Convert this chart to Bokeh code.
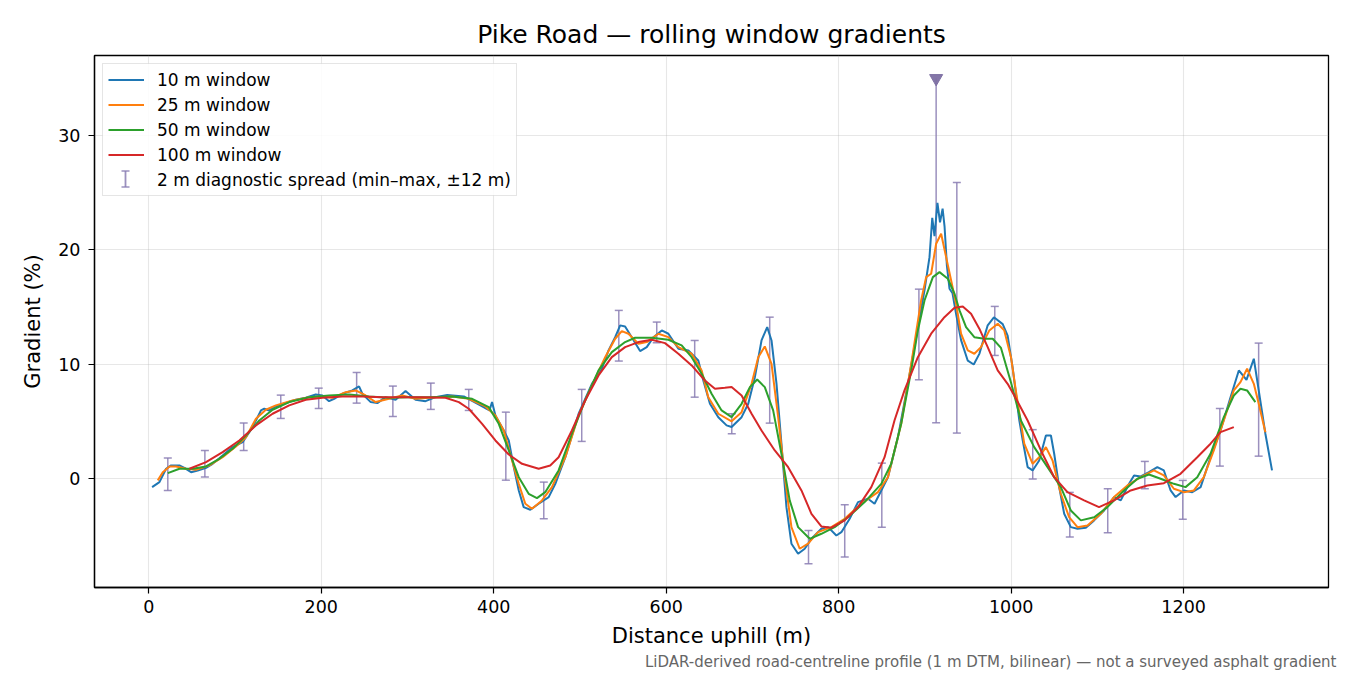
import numpy as np
from bokeh.plotting import figure
from bokeh.models import Range1d, FixedTicker, Legend, LegendItem, Title, BoxAnnotation
from bokeh.embed import file_html
from bokeh.resources import INLINE

# rolling-window gradients (%)
dist_10 = [3.8, 12.3, 20, 25.8, 35.5, 41.3, 49, 56.7, 66.3, 74, 85.6, 97.2, 108.8, 116.5, 124.2, 130, 133.9,
           139.6, 147.3, 158.9, 170.5, 182, 193.6, 201.3, 209, 214.9, 224.5, 236, 243.8, 247.6, 257.3, 265,
           274.6, 286.2, 297.7, 309.3, 320.9, 332.5, 346, 365.3, 384.5, 395, 398, 401.9, 411.6, 417.4, 423.2,
           429, 434.7, 442.4, 452.1, 463.7, 471.4, 483, 498.4, 513.8, 525.4, 533.1, 540.8, 546.6, 552.3, 560,
           569.7, 577.4, 585.2, 594.8, 602.5, 614.1, 625.7, 637.2, 643, 650.7, 660.4, 670, 675.8, 687.4, 695.1,
           702.8, 710.5, 717.1, 722.1, 727.9, 733.6, 739.4, 745.2, 752.9, 760.6, 768.4, 779.9, 787.7, 797.3,
           803.1, 812.7, 822.4, 834, 841.6, 849.4, 857.1, 868.7, 880.3, 889.9, 899.5, 905.3, 908.5, 911.1,
           914.5, 917.5, 920.5, 922.8, 925.5, 928.5, 932, 936.1, 941.9, 949.7, 956.6, 963.1, 972.8, 980, 990.2,
           995.9, 1001.7, 1009.4, 1013.5, 1019.1, 1024.9, 1032.5, 1040.3, 1046.1, 1049.9, 1055.7, 1061.5,
           1069.2, 1076.9, 1086.6, 1096.2, 1107.8, 1119.3, 1127.1, 1136.7, 1142.5, 1150.2, 1159.8, 1169.5,
           1177.1, 1184.9, 1190.7, 1200.3, 1210, 1219.7, 1231.2, 1242.8, 1254.4, 1264, 1272.9, 1281.4, 1287.1,
           1294.8, 1302.5]
grad_10 = [-0.76, -0.32, 0.85, 1.14, 1.14, 0.93, 0.55, 0.7, 0.93, 1.28, 2.0, 2.74, 3.18, 4.05, 5.07, 5.95, 6.1,
           5.95, 6.3, 6.6, 6.88, 7.06, 7.35, 7.26, 6.76, 6.97, 7.41, 7.7, 8.05, 7.41, 6.68, 6.59,
           7.11, 6.88, 7.64, 6.88, 6.76, 7.11, 7.3, 7.17, 6.4, 5.95, 6.68, 5.51, 4.2, 3.32, 0.99,
           -1.05, -2.51, -2.74, -2.21, -1.63, -0.47, 1.86, 5.66, 8.28, 9.6, 11.2, 12.36, 13.39, 13.3, 12.36,
           11.14, 11.49, 12.36, 12.95, 12.66, 11.35, 11.2, 10.32, 8.57, 6.53, 5.36, 4.64, 4.5, 5.36, 6.53,
           8.86, 12.07, 13.24, 12.07, 8.28, 3.04, -2.51, -5.71, -6.59, -6.15, -5.28, -4.4, -4.26, -4.99,
           -4.7, -3.53, -2.07, -1.78, -2.21, -1.05, 0.11, 3.61, 8.28, 12.36, 16.45, 19.36, 22.8, 21.2,
           24.1, 22.4, 23.6, 22.0, 18.6, 16.6, 16.2, 14.4, 12.1, 10.3, 9.97, 10.9, 13.4, 14.1, 13.5,
           12.5, 9.7, 5.1, 3.3, 0.99, 0.7, 1.57, 3.76, 3.76, 2.16, -0.76, -3.09,
           -4.26, -4.4, -4.31, -3.67, -2.8, -1.63, -1.92, -0.47, 0.26, 0.17, 0.55, 0.99,
           0.7, -1.05, -1.63, -1.05, -1.2, -0.76, 1.86, 4.2, 7.11, 9.45, 8.63, 10.47, 7.7,
           3.91, 0.7]

dist_25 = [10.4, 16.2, 24, 31.6, 43.2, 54.7, 70.2, 85.6, 101, 112.6, 124.2, 135.7, 147.3, 166.6, 186, 201.3,
           212.9, 228.3, 239.9, 251.5, 263, 278.5, 293.9, 309.3, 324.8, 351.8, 371, 390.3, 401.9, 411.6, 421.2,
           429, 436.6, 444.3, 455.9, 467.5, 483, 498.4, 513.8, 529.2, 540.8, 548.5, 556.2, 567.8, 577.4, 591,
           602.5, 614.1, 629.5, 641.1, 648.8, 660.4, 675.8, 687.4, 699, 706.7, 714.3, 722.1, 729.8, 737.5,
           745.2, 754.8, 764.5, 776.1, 791.5, 806.9, 826.2, 845.5, 857.1, 872.5, 884.1, 895.6, 901.4, 907.2,
           913, 918.8, 924.6, 930.4, 936.1, 941.9, 949.7, 957.3, 965, 974.7, 984.4, 992, 999.8, 1005.6,
           1015.2, 1024.9, 1032.5, 1040.3, 1048, 1057.6, 1067.2, 1076.9, 1088.5, 1103.9, 1119.3, 1134.8,
           1150.2, 1165.6, 1177.1, 1188.7, 1200.3, 1211.9, 1223.4, 1235, 1246.6, 1258.2, 1265.9, 1273.6,
           1281.4, 1287.1, 1294.8]
grad_25 = [-0.17, 0.55, 1.05, 1.05, 0.85, 0.76, 1.14, 1.86, 2.8, 3.61, 5.22, 6.01, 6.39, 6.82, 7.11, 7.17,
           7.06, 7.55, 7.7, 7.26, 6.68, 6.97, 7.26, 6.97, 7.06, 7.17, 6.97, 6.3, 5.51, 4.2, 1.57,
           -0.47, -2.21, -2.65, -1.92, -0.76, 1.86, 5.51, 8.14, 10.61, 12.22, 12.89, 12.66, 11.78, 11.93, 12.66,
           12.36, 11.49, 10.91, 9.45, 7.11, 5.66, 5.0, 5.8, 8.28, 10.61, 11.55, 10.03, 5.36, 0.11,
           -4.26, -6.15, -5.71, -4.7, -4.26, -3.53, -2.21, -1.2, 0.11, 4.78, 10.03, 15.57, 17.61, 17.91,
           20.53, 21.41, 19.36, 17.32, 15.28, 12.66, 11.2, 10.91, 11.49, 12.95, 13.53, 12.95, 10.61, 7.6,
           3.04, 1.28, 1.86, 2.74, 1.57, -1.34, -3.39, -4.26, -4.11, -3.09, -1.63, -0.61,
           0.11, 0.7, 0.26, -0.9, -1.2, -1.05, 0.11, 2.45, 5.07, 7.7, 8.43, 9.6,
           8.28, 6.53, 4.05]

dist_50 = [22, 35.5, 50.9, 66.3, 81.8, 97.2, 112.6, 128.1, 143.5, 162.8, 186, 209, 232.2, 255.4, 278.5, 301.7,
           324.8, 351.8, 374.9, 394.2, 405.8, 417.4, 429, 440.5, 450.1, 459.7, 475.2, 490.6, 506, 521.5, 536.9,
           552.3, 563.9, 583.2, 602.5, 617.9, 629.5, 641.1, 652.6, 664.2, 675.8, 687.4, 697, 705.5, 714.3, 724,
           733.6, 743.2, 752.9, 766.4, 779.9, 795.3, 810.8, 830.1, 849.4, 860.9, 872.5, 884.1, 891.8, 899.5,
           909.2, 916.9, 926.6, 934.3, 940.1, 947.7, 957.3, 968.9, 978.6, 988.2, 999.8, 1011.3, 1026.7, 1042.2,
           1057.6, 1069.2, 1080.8, 1096.2, 1111.6, 1130.9, 1146.4, 1159.8, 1173.3, 1188.7, 1202.2, 1215.8,
           1231.2, 1246.6, 1258.2, 1265.9, 1273.6, 1283.2]
grad_50 = [0.47, 0.85, 0.85, 1.05, 1.72, 2.6, 3.76, 5.07, 6.01, 6.68, 7.11, 7.26, 7.35, 7.17, 7.06, 7.11,
           7.11, 7.17, 6.97, 6.24, 4.78, 2.45, 0.11, -1.34, -1.72, -1.2, 0.7, 3.91, 6.82, 9.45, 11.05,
           11.93, 12.31, 12.31, 12.13, 11.64, 10.61, 9.16, 7.41, 5.95, 5.36, 6.53, 7.99, 8.66, 7.99, 5.95,
           2.16, -1.92, -4.26, -5.28, -4.84, -4.26, -3.39, -2.07, -0.47, 1.28, 4.78, 9.45, 12.95, 15.57,
           17.61, 18.05, 17.47, 16.16, 14.7, 13.24, 12.36, 12.22, 12.22, 11.42, 8.4, 5.07, 2.74, 0.99,
           -0.76, -2.8, -3.67, -3.39, -2.51, -1.05, -0.03, 0.35, -0.03, -0.47, -0.76, 0.11,
           2.16, 5.36, 7.26, 7.85, 7.7, 6.68]

dist_100 = [47.1, 66.3, 85.6, 104.9, 124.2, 143.5, 162.8, 182, 201.3, 224.5, 247.6, 270.8, 293.9, 317.1, 344,
            359.5, 371, 386.5, 401.9, 417.4, 432.8, 452.1, 465.5, 475.2, 490.6, 506, 521.5, 536.9, 552.3,
            567.8, 583.2, 598.6, 614.1, 629.5, 644.9, 656.5, 668, 675.8, 687.4, 699, 710.5, 725.9, 741.4,
            756.8, 768.4, 779.9, 791.5, 806.9, 822.4, 837.8, 853.2, 864.7, 876.3, 891.8, 907.2, 922.6, 934.3,
            943.9, 953.5, 963.1, 972.8, 984.4, 995.9, 1003.6, 1019.1, 1034.5, 1049.9, 1065.3, 1084.6, 1101.9,
            1119.3, 1138.6, 1157.9, 1177.1, 1196.4, 1215.8, 1231.2, 1242.8, 1258.2]
grad_100 = [0.85, 1.43, 2.3, 3.32, 4.64, 5.66, 6.39, 6.88, 7.06, 7.17, 7.17, 7.11, 7.11, 7.11, 7.06,
            6.68, 6.1, 4.78, 3.32, 2.1, 1.28, 0.85, 1.14, 1.86, 4.2, 6.82, 9.01, 10.61, 11.49,
            11.93, 12.13, 11.84, 10.91, 9.89, 8.57, 7.85, 7.93, 8.0, 7.26, 5.66, 4.2, 2.45, 0.99,
            -1.05, -3.09, -4.2, -4.31, -3.67, -2.51, -0.76, 1.86, 5.07, 7.7, 10.61, 12.66, 14.11, 14.93,
            15.05, 14.41, 13.1, 11.49, 9.45, 8.28, 7.26, 5.07, 2.45, 0.11, -1.2, -1.92, -2.51,
            -1.92, -1.05, -0.61, -0.41, 0.41, 1.86, 3.04, 4.05, 4.49]

# 2 m diagnostic spread (min / max over +-12 m)
spread_x = [22, 65, 110, 153, 197, 241, 283, 327, 371, 414, 458, 502, 545, 589, 633, 676, 720, 765, 807, 850,
            893, 937, 981, 1025, 1068, 1112, 1155, 1199, 1242, 1287]
spread_lo = [-1.05, 0.12, 2.45, 5.25, 6.12, 6.59, 5.42, 6.04, 5.95, -0.15, -3.53, 3.24, 10.27, 11.87, 7.11,
             3.91, 4.84, -7.47, -6.88, -4.26, 8.63, 3.97, 10.76, -0.05, -5.13, -4.75, -0.9, -3.56, 1.08, 1.95]
spread_hi = [1.78, 2.45, 4.84, 7.29, 7.9, 9.27, 8.08, 8.34, 7.79, 5.8, -0.32, 7.79, 14.7, 13.68, 12.07,
             5.66, 14.11, -4.55, -2.3, 1.34, 16.56, 25.9, 15.05, 4.27, -1.22, -0.9, 1.49, -0.17, 6.12, 11.84]
# steepest 2 m sample, runs off the top of the axis
peak_x = [913]
peak_lo = [4.87]
peak_hi = [35.0]

FONT = "DejaVu Sans"
BAR = "#8a7cb3"

p = figure(width=1340, height=670, output_backend="svg", toolbar_location=None,
           x_range=Range1d(-63, 1368), y_range=Range1d(-9.54, 37.0),
           min_border_left=94, min_border_right=12, min_border_top=55, min_border_bottom=83)

p.title.text = "Pike Road \u2014 rolling window gradients"
p.title.text_font = FONT
p.title.text_font_size = "25px"
p.title.text_font_style = "normal"
p.title.text_color = "black"
p.title.align = "center"
p.title.standoff = 13

p.xaxis.axis_label = "Distance uphill (m)"
p.yaxis.axis_label = "Gradient (%)"
p.xaxis.ticker = FixedTicker(ticks=[0, 200, 400, 600, 800, 1000, 1200])
p.yaxis.ticker = FixedTicker(ticks=[0, 10, 20, 30])
for ax in [p.xaxis, p.yaxis]:
    ax.axis_label_text_font = FONT
    ax.axis_label_text_font_size = "21px"
    ax.axis_label_text_font_style = "normal"
    ax.axis_label_text_color = "black"
    ax.major_label_text_font = FONT
    ax.major_label_text_font_size = "17.5px"
    ax.major_label_text_color = "black"
    ax.major_tick_out = 6
    ax.major_tick_in = 0
    ax.minor_tick_line_color = None
    ax.axis_line_color = "black"
    ax.axis_line_width = 1.3
    ax.major_tick_line_width = 1.2
p.xaxis.major_label_standoff = 6
p.yaxis.major_label_standoff = 8
p.xaxis.axis_label_standoff = 8
p.yaxis.axis_label_standoff = 10
p.outline_line_color = "black"
p.outline_line_width = 1.3
p.outline_line_alpha = 1

p.grid.grid_line_color = "#b0b0b0"
p.grid.grid_line_alpha = 0.3
p.grid.grid_line_width = 1.1

# error bars
p.segment(spread_x, spread_lo, spread_x, spread_hi, line_color=BAR, line_alpha=0.85, line_width=1.5)
p.scatter(spread_x + spread_x, spread_lo + spread_hi, marker="dash", size=8, line_color=BAR,
          line_alpha=0.85, line_width=1.5)
p.segment(peak_x, peak_lo, peak_x, peak_hi, line_color=BAR, line_alpha=0.85, line_width=1.5)
p.scatter(peak_x, peak_lo, marker="dash", size=8, line_color=BAR, line_alpha=0.85, line_width=1.5)
p.scatter(peak_x, peak_hi, marker="inverted_triangle", size=13, fill_color="#7d6fa3",
          line_color="#7d6fa3", fill_alpha=0.95)

r10 = p.line(dist_10, grad_10, line_color="#1f77b4", line_width=2)
r25 = p.line(dist_25, grad_25, line_color="#ff7f0e", line_width=2)
r50 = p.line(dist_50, grad_50, line_color="#2ca02c", line_width=2)
r100 = p.line(dist_100, grad_100, line_color="#d62728", line_width=2)

# placeholder renderer for the spread entry; its I-beam key is drawn below
r_key = p.scatter([np.nan], [np.nan], marker="dash", size=1, line_alpha=0)

ROW = 21
GAP = 4
PAD = 5
MARGIN = 8

# legend backdrop (the legend itself is transparent so the I-beam key shows through)
p.add_layout(BoxAnnotation(left=94 + MARGIN, right=516, top=55 + MARGIN, bottom=195,
                           left_units="canvas", right_units="canvas", top_units="canvas",
                           bottom_units="canvas", fill_color="white", fill_alpha=0.85, line_color=None))

# I-beam legend key (canvas pixels, inside the legend box)
kx = 94 + MARGIN + PAD + 36 / 2
ky = 55 + MARGIN + PAD + 4 * (ROW + GAP) + ROW / 2
for l, r, t, b in [(kx - 0.9, kx + 0.9, ky - 8, ky + 8), (kx - 4, kx + 4, ky - 8.8, ky - 7.2),
                   (kx - 4, kx + 4, ky + 7.2, ky + 8.8)]:
    p.add_layout(BoxAnnotation(left=l, right=r, top=t, bottom=b, left_units="canvas", right_units="canvas",
                               top_units="canvas", bottom_units="canvas", fill_color=BAR, fill_alpha=0.85,
                               line_color=None))

legend = Legend(items=[
    LegendItem(label="10 m window", renderers=[r10]),
    LegendItem(label="25 m window", renderers=[r25]),
    LegendItem(label="50 m window", renderers=[r50]),
    LegendItem(label="100 m window", renderers=[r100]),
    LegendItem(label="2 m diagnostic spread (min\u2013max, \u00b112 m)", renderers=[r_key]),
], location="top_left")
legend.label_text_font = FONT
legend.label_text_font_size = "17px"
legend.label_text_color = "black"
legend.glyph_width = 36
legend.glyph_height = ROW
legend.label_height = ROW
legend.spacing = GAP
legend.padding = PAD
legend.margin = MARGIN
legend.label_standoff = 13
legend.border_line_color = "#cccccc"
legend.border_line_width = 1.3
legend.background_fill_alpha = 0
p.add_layout(legend)

note = Title(text="LiDAR-derived road-centreline profile (1 m DTM, bilinear) \u2014 not a surveyed asphalt gradient",
             align="right", text_font=FONT, text_font_size="15px", text_font_style="normal",
             text_color="#666666", standoff=0, offset=-8)
p.add_layout(note, "below")

open("out.html", "w").write(file_html(p, INLINE))
